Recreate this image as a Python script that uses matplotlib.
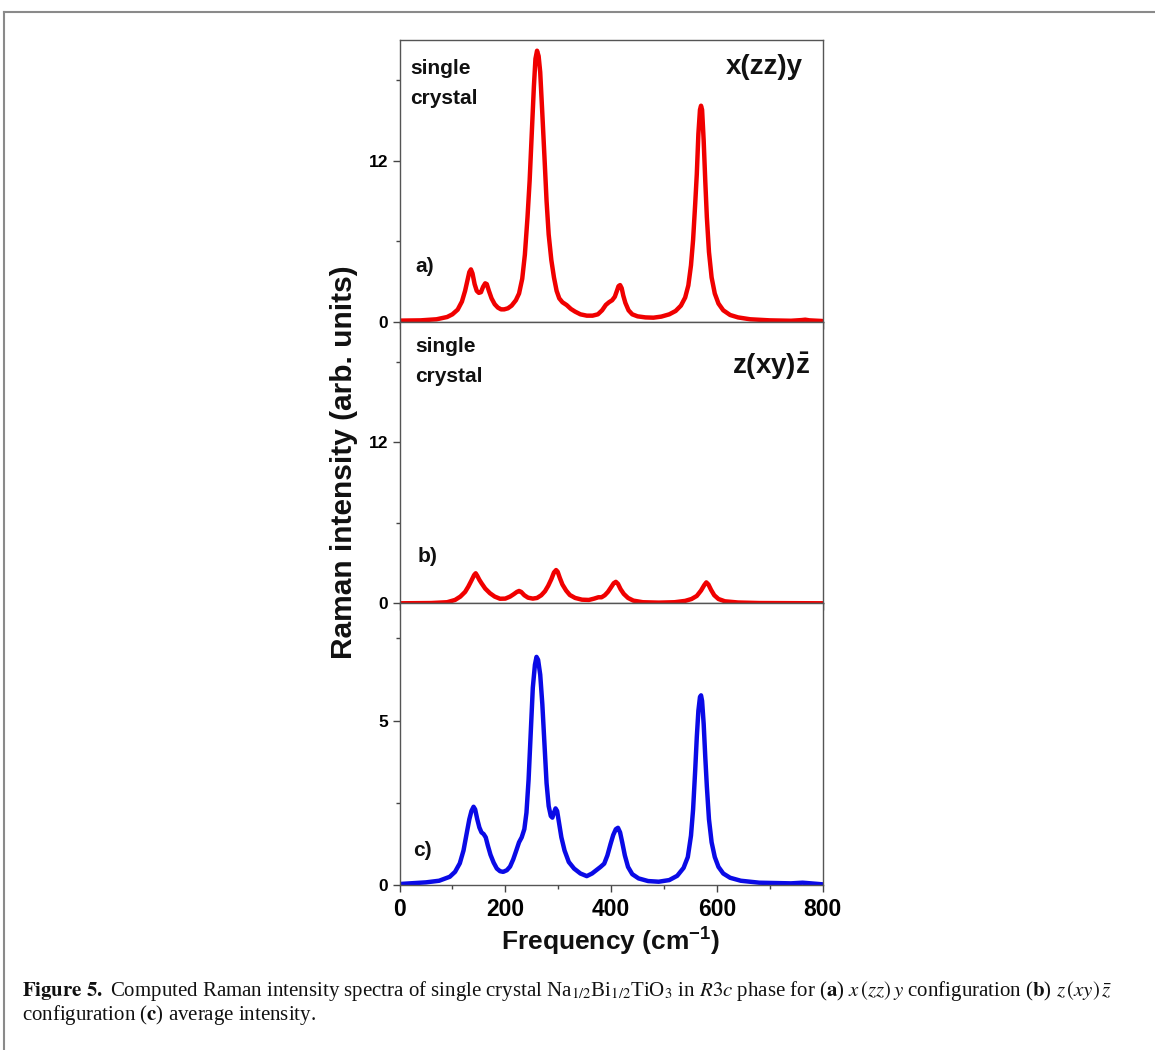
import matplotlib
matplotlib.use("Agg")
import matplotlib.pyplot as plt
from matplotlib.lines import Line2D
from matplotlib.ticker import MultipleLocator

plt.rcParams['font.family'] = ['Liberation Sans', 'DejaVu Sans']
plt.rcParams['mathtext.fontset'] = 'custom'
plt.rcParams['mathtext.rm'] = 'Liberation Sans'
plt.rcParams['mathtext.bf'] = 'Liberation Sans:bold'
plt.rcParams['mathtext.it'] = 'Liberation Sans:italic'

# ---------------- data ----------------
freq_a = [0, 40, 70, 90, 100, 110, 118, 124, 128, 132, 135, 138, 142, 146, 150, 154, 158, 162, 165,
          169, 174, 180, 186, 192, 198, 205, 212, 220, 226, 232, 237, 242, 246, 250, 254, 257, 260,
          263, 266, 270, 274, 278, 282, 287, 292, 297, 302, 308, 316, 324, 332, 342, 354, 365, 375,
          383, 390, 396, 402, 407, 411, 414, 417, 420, 423, 427, 433, 440, 450, 465, 480, 495, 510,
          522, 532, 540, 546, 551, 555, 559, 562, 565, 568, 570, 572, 575, 578, 581, 585, 590, 596,
          603, 612, 625, 640, 663, 700, 740, 760, 767, 775, 800]
int_a = [0.08, 0.1, 0.18, 0.35, 0.55, 0.9, 1.5, 2.3, 3.0, 3.7, 3.9, 3.6, 2.8, 2.3, 2.15, 2.2, 2.6, 2.86, 2.8,
         2.3, 1.74, 1.3, 1.05, 0.92, 0.92, 1.0, 1.2, 1.6, 2.1, 3.2, 5.0, 7.8, 10.5, 14.0, 17.5, 19.6, 20.2,
         19.8, 18.6, 15.5, 12.3, 9.0, 6.5, 4.6, 3.3, 2.3, 1.74, 1.45, 1.24, 0.95, 0.75, 0.55, 0.45, 0.45, 0.55,
         0.85, 1.25, 1.45, 1.6, 1.86, 2.3, 2.65, 2.73, 2.5, 1.95, 1.4, 0.85, 0.55, 0.4, 0.32, 0.3, 0.38, 0.55,
         0.8, 1.2, 1.8, 2.7, 4.2, 6.1, 8.8, 11.0, 14.0, 15.8, 16.1, 15.8, 13.5, 10.5, 7.8, 5.2, 3.3, 2.1,
         1.35, 0.85, 0.5, 0.32, 0.18, 0.1, 0.07, 0.12, 0.15, 0.1, 0.05]

freq_b = [0, 60, 90, 105, 115, 124, 130, 136, 141, 144, 147, 151, 155, 162, 171, 180, 190, 200, 209,
          216, 222, 226, 230, 236, 243, 252, 260, 268, 275, 281, 287, 292, 296, 299, 303, 308, 315,
          322, 332, 345, 358, 368, 376, 382, 388, 394, 400, 405, 409, 413, 418, 424, 432, 442, 460,
          490, 520, 540, 552, 562, 570, 576, 580, 584, 589, 595, 603, 615, 640, 680, 800]
int_b = [0.0, 0.02, 0.08, 0.25, 0.5, 0.85, 1.24, 1.7, 2.1, 2.24, 2.05, 1.75, 1.5, 1.1, 0.75, 0.5, 0.34, 0.35, 0.5,
         0.68, 0.85, 0.92, 0.85, 0.6, 0.42, 0.35, 0.4, 0.6, 0.9, 1.3, 1.8, 2.3, 2.48, 2.35, 1.9, 1.4, 0.95,
         0.62, 0.4, 0.27, 0.25, 0.35, 0.45, 0.45, 0.6, 0.85, 1.2, 1.5, 1.6, 1.45, 1.05, 0.7, 0.4, 0.2, 0.08,
         0.05, 0.08, 0.18, 0.32, 0.55, 0.95, 1.35, 1.56, 1.4, 1.0, 0.6, 0.32, 0.15, 0.06, 0.02, 0.0]

freq_c = [0, 50, 75, 95, 105, 114, 121, 127, 132, 136, 140, 143, 147, 151, 155, 159, 163, 167, 172,
          178, 184, 190, 196, 203, 209, 215, 221, 226, 231, 236, 240, 244, 248, 252, 256, 259, 262,
          266, 270, 274, 278, 282, 286, 289, 292, 295, 298, 302, 306, 312, 320, 330, 342, 354, 364,
          372, 380, 387, 393, 399, 404, 409, 413, 417, 421, 426, 432, 440, 452, 470, 490, 510, 525,
          537, 545, 551, 555, 559, 562, 565, 568, 570, 572, 575, 578, 581, 585, 590, 596, 603, 612,
          625, 645, 680, 740, 762, 770, 800]
int_c = [0.03, 0.08, 0.13, 0.25, 0.4, 0.66, 1.05, 1.57, 2.0, 2.25, 2.38, 2.3, 2.0, 1.75, 1.6, 1.55, 1.45, 1.2, 0.92,
         0.68, 0.5, 0.42, 0.4, 0.45, 0.56, 0.78, 1.06, 1.3, 1.45, 1.7, 2.2, 3.2, 4.6, 6.0, 6.7, 6.94, 6.85,
         6.4, 5.5, 4.3, 3.1, 2.4, 2.1, 2.05, 2.2, 2.33, 2.25, 1.85, 1.45, 1.05, 0.7, 0.5, 0.35, 0.27, 0.35,
         0.45, 0.55, 0.65, 0.9, 1.25, 1.52, 1.7, 1.74, 1.6, 1.3, 0.9, 0.55, 0.33, 0.2, 0.12, 0.1, 0.15, 0.28,
         0.52, 0.85, 1.5, 2.3, 3.5, 4.5, 5.3, 5.72, 5.77, 5.6, 4.9, 3.9, 3.0, 2.0, 1.3, 0.85, 0.55, 0.35,
         0.22, 0.13, 0.07, 0.05, 0.07, 0.06, 0.02]

x_ticks = [0, 200, 400, 600, 800]
y_ticks_ab = [0, 12]
y_ticks_c = [0, 5]

# ---------------- figure ----------------
W, H = 1155, 1050
fig = plt.figure(figsize=(W / 100, H / 100), dpi=100)


def fx(px):
    return px / W


def fy(py):
    return 1 - py / H


left, right = 399.5, 822.7
tops = [40, 321.7, 603.3]
bots = [321.7, 603.3, 885]

axes = []
for t, b in zip(tops, bots):
    ax = fig.add_axes([fx(left), fy(b), fx(right - left), (b - t) / H])
    axes.append(ax)

red = '#f00000'
blue = '#0a0ae6'
axes[0].plot(freq_a, int_a, color=red, lw=3.2, solid_joinstyle='round')
axes[1].plot(freq_b, int_b, color=red, lw=3.2, solid_joinstyle='round')
axes[2].plot(freq_c, int_c, color=blue, lw=3.2, solid_joinstyle='round')

for i, ax in enumerate(axes):
    ax.set_xlim(0, 800)
    ax.set_xticks(x_ticks)
    ax.xaxis.set_minor_locator(MultipleLocator(100))
    if i < 2:
        ax.set_ylim(0, 21)
        ax.set_yticks(y_ticks_ab)
        ax.yaxis.set_minor_locator(MultipleLocator(6))
    else:
        ax.set_ylim(0, 8.57)
        ax.set_yticks(y_ticks_c)
        ax.yaxis.set_minor_locator(MultipleLocator(2.5))
    for s in ax.spines.values():
        s.set_color('#555555')
        s.set_linewidth(1.0)
    ax.tick_params(which='both', direction='out', color='#444444', width=1.0)
    ax.tick_params(which='major', length=5)
    ax.tick_params(which='minor', length=3)
    ax.tick_params(axis='y', labelsize=12.5, pad=3)
    ax.tick_params(axis='x', labelsize=16.5, pad=4)
    for lab in ax.get_yticklabels():
        lab.set_fontweight('bold')
    if i < 2:
        ax.tick_params(axis='x', labelbottom=False)
    else:
        for lab in ax.get_xticklabels():
            lab.set_fontweight('bold')

# annotations
fig.text(fx(410), fy(59), 'single\ncrystal', fontsize=15, fontweight='bold',
         ha='left', va='top', linespacing=1.75, color='#111111')
fig.text(fx(803), fy(67), 'x(zz)y', fontsize=20, fontweight='bold',
         ha='right', va='center', color='#111111')
fig.text(fx(415), fy(267), 'a)', fontsize=15, fontweight='bold',
         ha='left', va='center', color='#111111')

fig.text(fx(415), fy(337), 'single\ncrystal', fontsize=15, fontweight='bold',
         ha='left', va='top', linespacing=1.75, color='#111111')
fig.text(fx(810), fy(366), r'$\mathbf{z(xy)\bar{z}}$', fontsize=20,
         ha='right', va='center', color='#111111')
fig.text(fx(418), fy(557), 'b)', fontsize=15, fontweight='bold',
         ha='left', va='center', color='#111111')

fig.text(fx(413), fy(851), 'c)', fontsize=15, fontweight='bold',
         ha='left', va='center', color='#111111')

# axis labels
fig.text(fx(344), fy(462), 'Raman intensity (arb. units)', fontsize=21.5, fontweight='bold',
         rotation=90, ha='center', va='center', color='#111111')
fig.text(fx(611), fy(942), r'Frequency (cm$^{\mathbf{-1}}$)', fontsize=19, fontweight='bold',
         ha='center', va='center', color='#111111')

# caption
cap1 = (r'$\mathbf{Figure\ 5.}$ Computed Raman intensity spectra of single crystal '
        r'Na$_{1/2}$Bi$_{1/2}$TiO$_3$ in $\mathit{R3c}$ phase for ($\mathbf{a}$) $x\,(zz)\,y$ '
        r'configuration ($\mathbf{b}$) $z\,(xy)\,\bar{z}$')
cap2 = r'configuration ($\mathbf{c}$) average intensity.'
fig.text(fx(22), fy(991), cap1, fontsize=15, family=['Liberation Serif', 'DejaVu Serif'],
         math_fontfamily='stix', ha='left', va='center', color='#111111')
fig.text(fx(22), fy(1015), cap2, fontsize=15, family=['Liberation Serif', 'DejaVu Serif'],
         math_fontfamily='stix', ha='left', va='center', color='#111111')

# frame lines
fig.add_artist(Line2D([fx(4), 1.0], [fy(12), fy(12)], transform=fig.transFigure,
                      color='#8a8a8a', lw=1.5))
fig.add_artist(Line2D([fx(4), fx(4)], [fy(12), 0.0], transform=fig.transFigure,
                      color='#8a8a8a', lw=1.5))

fig.savefig('out.png', dpi=100)
